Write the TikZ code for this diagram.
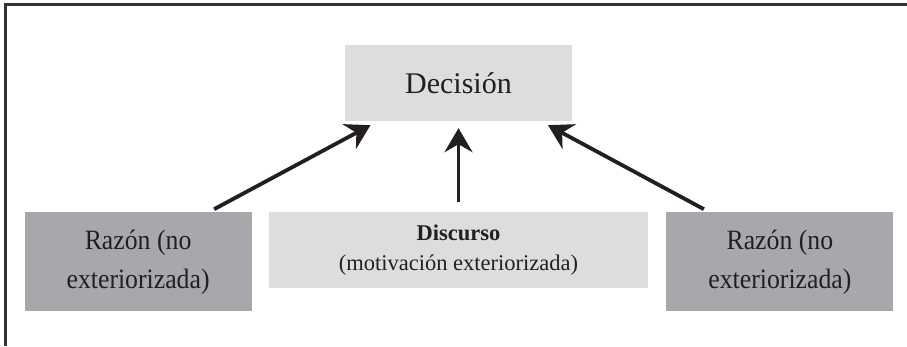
\documentclass[tikz,border=0pt]{standalone}
\usepackage{fontspec}
\setmainfont{Liberation Serif}
\newfontfamily\narrowserif[FakeStretch=0.92]{Liberation Serif}
\usetikzlibrary{arrows.meta, positioning}
\definecolor{lightbox}{HTML}{DCDDDF}
\definecolor{darkbox}{HTML}{A7A8AB}
\definecolor{inktext}{HTML}{231F20}
\tikzstyle{decisionbox} = [rectangle, minimum width=227pt, minimum height=76pt, inner sep=0pt, text centered, fill=lightbox, text=inktext, font=\fontsize{30}{36}\selectfont]
\tikzstyle{razonbox} = [rectangle, minimum width=227pt, minimum height=99pt, inner sep=0pt, align=center, fill=darkbox, text=inktext, font=\narrowserif\fontsize{28}{39}\selectfont]
\tikzstyle{discursobox} = [rectangle, minimum width=379pt, minimum height=76pt, inner sep=0pt, align=center, fill=lightbox, text=inktext, font=\fontsize{22.5}{30}\selectfont]
\tikzstyle{arrow} = [line width=3.8pt, draw=inktext, -{Stealth[length=24pt, width=28pt, inset=8pt]}]
\tikzstyle{outerframe} = [line width=3pt, draw=black!80]

\begin{document}
\begin{tikzpicture}[x=1pt, y=1pt]
    \useasboundingbox (0,0) rectangle (907,346);
    \draw [outerframe] (907,341.5) -- (5.8,341.5) -- (5.8,0);

    \node (decision) [decisionbox] at (458.5,263) {Decisión};
    \node (discurso) [discursobox, below=91pt of decision] {\textbf{Discurso}\\(motivación exteriorizada)};
    \node (razonL) [razonbox, left=17pt of discurso.north west, anchor=north east] {Razón (no\\exteriorizada)};
    \node (razonR) [razonbox, right=18pt of discurso.north east, anchor=north west] {Razón (no\\exteriorizada)};

    \draw [arrow] ([shift={(76pt,3pt)}]razonL.north) -- ([shift={(-88pt,-4pt)}]decision.south);
    \draw [arrow] ([yshift=10pt]discurso.north) -- ([yshift=-7pt]decision.south);
    \draw [arrow] ([shift={(-76pt,3pt)}]razonR.north) -- ([shift={(89.5pt,-4pt)}]decision.south);
\end{tikzpicture}
\end{document}
